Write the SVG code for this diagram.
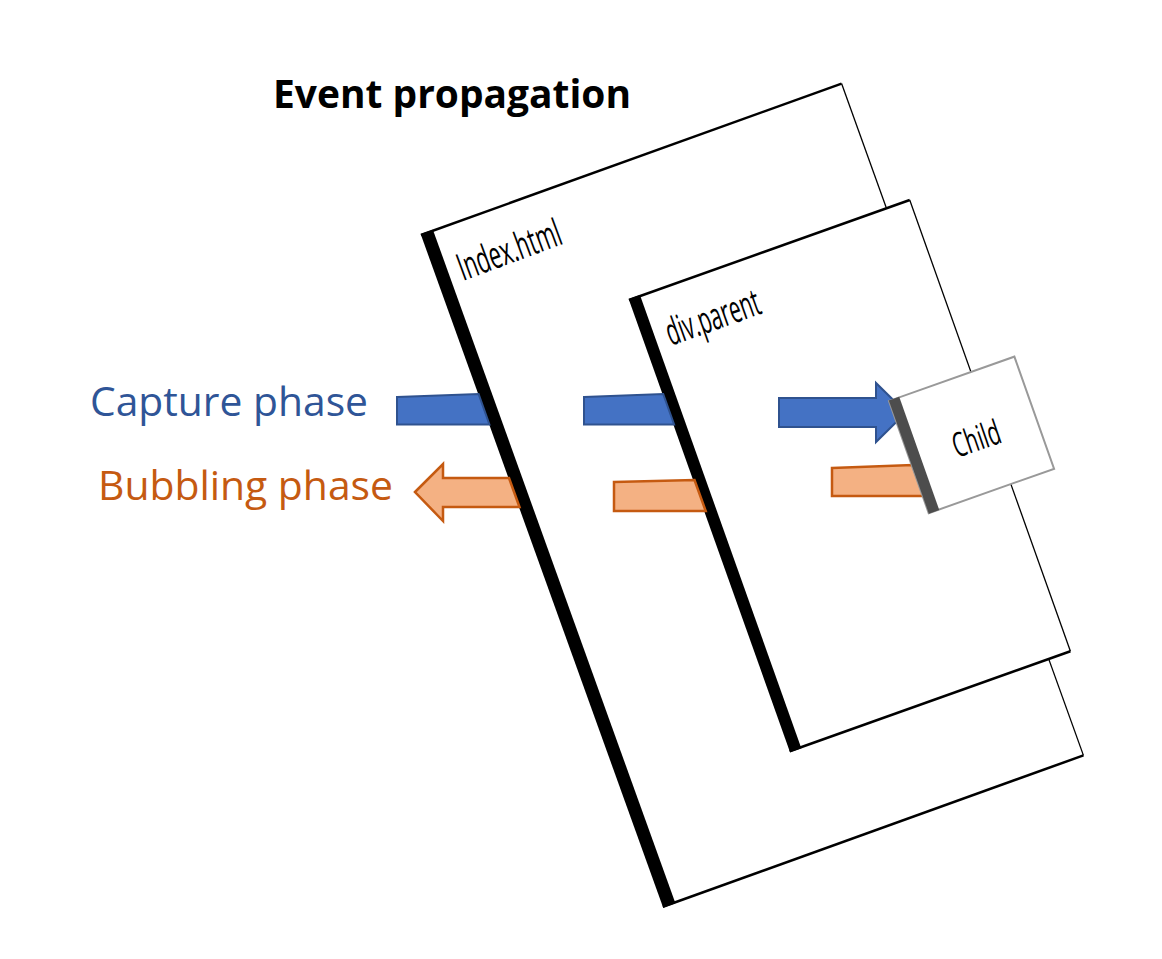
<svg xmlns="http://www.w3.org/2000/svg" width="1162" height="959" viewBox="0 0 1162 959">
  <style>
    .title { font-family: "Open Sans", "Noto Sans", "Liberation Sans", sans-serif; font-weight: bold; font-size: 40px; fill: #000000; }
    .lbl { font-family: "Open Sans", "Noto Sans", "Liberation Sans", sans-serif; font-size: 40px; }
    .cap { fill: #2F5597; }
    .bub { fill: #C55A11; }
    .ptext { font-family: "Open Sans", "Noto Sans", "Liberation Sans", sans-serif; font-size: 38px; fill: #000000; }
    .page { fill: #FFFFFF; stroke: none; }
    .edge { fill: none; stroke: #000000; stroke-width: 2.5; }
    .redge { fill: none; stroke: #000000; stroke-width: 1.3; }
    .band { fill: #000000; }
    .capArrow { fill: #4472C4; stroke: #2F528F; stroke-width: 2; stroke-linejoin: miter; }
    .bubArrow { fill: #F4B183; stroke: #C55A11; stroke-width: 2.5; stroke-linejoin: miter; }
  </style>

  <rect x="0" y="0" width="1162" height="959" fill="#FFFFFF"/>

  <g id="title">
    <text class="title" x="273" y="108" textLength="358" lengthAdjust="spacingAndGlyphs">Event propagation</text>
  </g>

  <g id="label-capture">
    <text class="lbl cap" x="90" y="416" textLength="278" lengthAdjust="spacingAndGlyphs">Capture phase</text>
  </g>
  <g id="label-bubbling">
    <text class="lbl bub" x="98" y="500" textLength="295" lengthAdjust="spacingAndGlyphs">Bubbling phase</text>
  </g>

  <g id="node-index" transform="translate(421,235) rotate(-19.8)">
    <rect class="page" x="0" y="0" width="447" height="714"/>
    <line class="edge" x1="0" y1="0" x2="447" y2="0"/>
    <line class="redge" x1="447" y1="0" x2="447" y2="714"/>
    <line class="edge" x1="0" y1="714" x2="447" y2="714"/>
    <rect class="band" x="0" y="-1" width="13" height="716"/>
  </g>
  <text class="ptext" transform="translate(463,281) rotate(-20.3)" textLength="108" lengthAdjust="spacingAndGlyphs">Index.html</text>

  <g id="node-parent" transform="translate(629,300) rotate(-19.6)">
    <rect class="page" x="0" y="0" width="298" height="479"/>
    <line class="edge" x1="0" y1="0" x2="298" y2="0"/>
    <line class="redge" x1="298" y1="0" x2="298" y2="479"/>
    <line class="edge" x1="0" y1="479" x2="298" y2="479"/>
    <rect class="band" x="0" y="-1" width="12" height="481"/>
  </g>
  <text class="ptext" transform="translate(671,346) rotate(-19.7)" textLength="98" lengthAdjust="spacingAndGlyphs">div.parent</text>

  <g id="connectors">
    <polygon class="capArrow" points="397,397 478.6,394 489.4,424.5 397,424.5"/>
    <polygon class="capArrow" points="584,397 663.2,394 674.1,424.5 584,424.5"/>
    <polygon class="capArrow" points="779,398 876,398 876,383 906,412.5 876,442 876,427 779,427"/>
    <polygon class="bubArrow" points="415,492 443,464 443,478 509,478 519.5,507 443,507 443,521"/>
    <polygon class="bubArrow" points="614,482 694.5,480 705.7,511 614,511"/>
    <polygon class="bubArrow" points="832,468 912.4,465 923.8,496 832,496"/>
  </g>

  <g id="node-child">
    <g transform="translate(889,401) rotate(-19.5)">
      <rect x="0" y="0" width="133" height="119" fill="#FFFFFF" stroke="#999999" stroke-width="2"/>
      <rect x="0" y="-0.5" width="11" height="120" fill="#4D4D4D"/>
    </g>
    <text class="ptext" style="font-size:34px" transform="translate(957,458) rotate(-19)" textLength="49" lengthAdjust="spacingAndGlyphs">Child</text>
  </g>
</svg>
